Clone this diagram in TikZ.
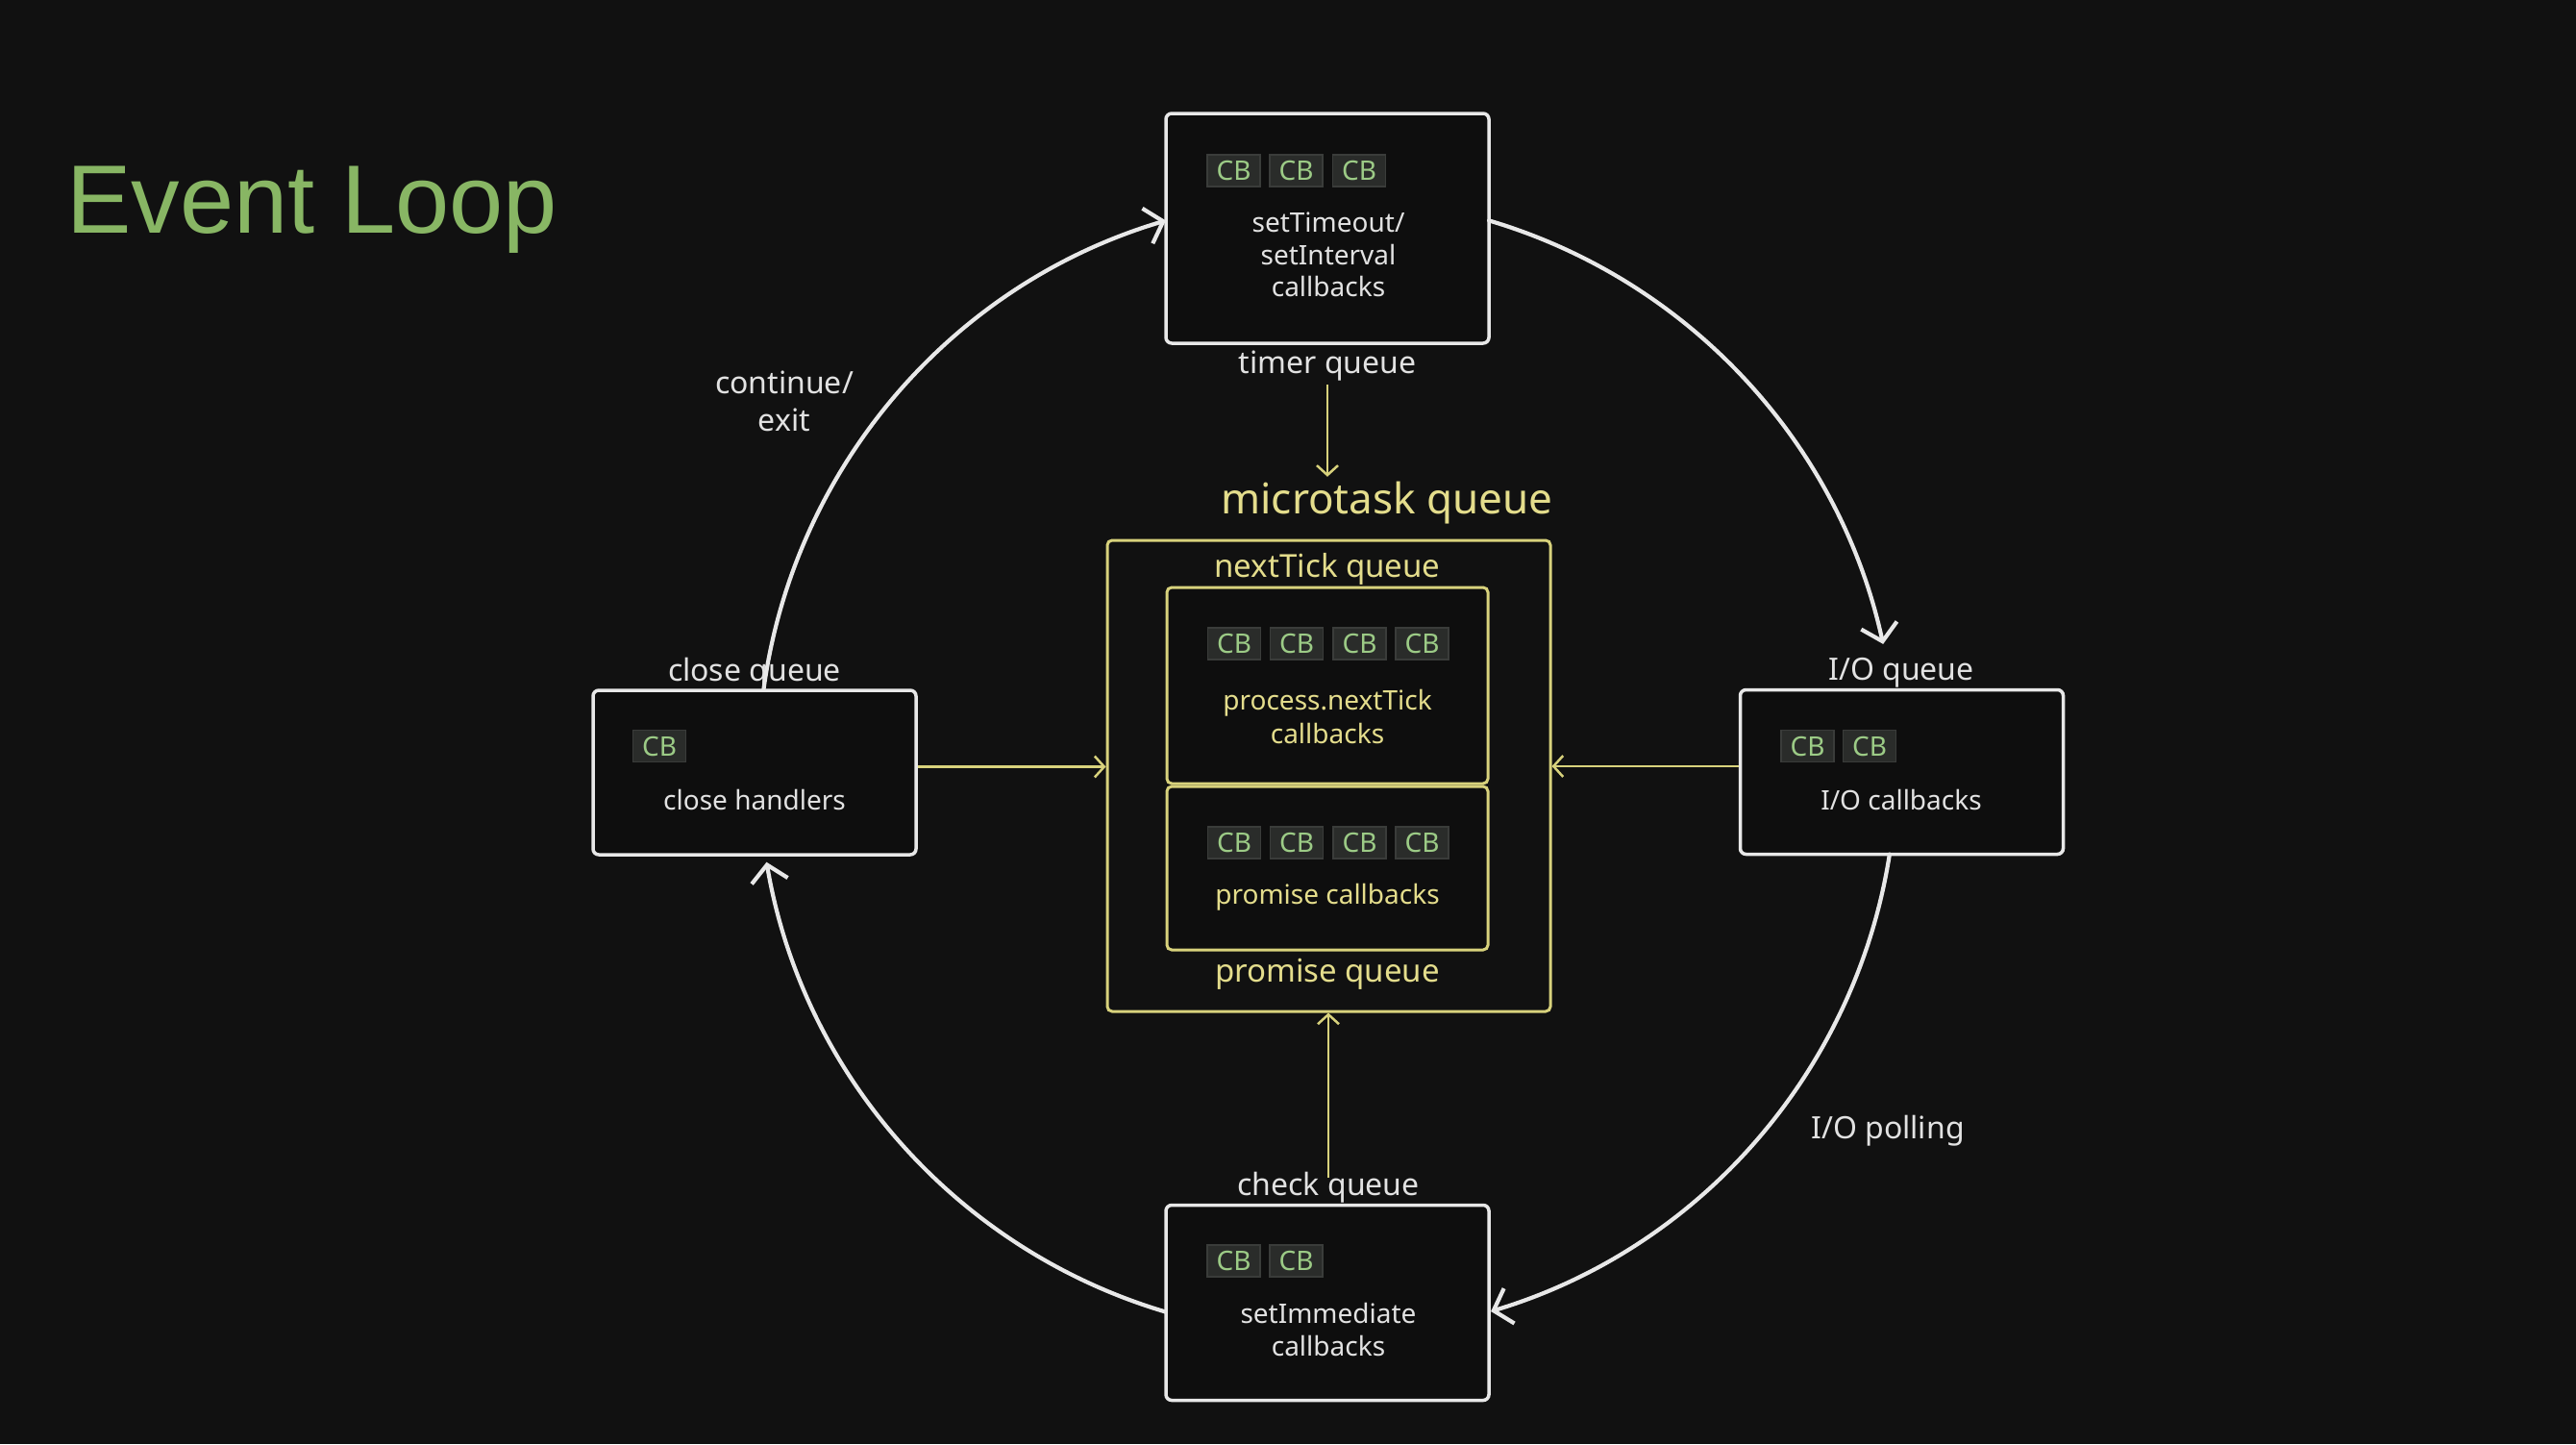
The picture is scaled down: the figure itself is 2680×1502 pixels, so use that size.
\documentclass[tikz,border=0pt]{standalone}
\usepackage{fontspec}
\setmainfont{Noto Sans}
\newfontfamily\titlefont{Liberation Sans}
\usetikzlibrary{arrows.meta,calc}
\definecolor{bg}{HTML}{111111}
\definecolor{boxfill}{HTML}{0E0E0E}
\definecolor{wline}{HTML}{E8E8E8}
\definecolor{wtext}{HTML}{E2E2E2}
\definecolor{yline}{HTML}{D8D27C}
\definecolor{ytext}{HTML}{E4DD8C}
\definecolor{cbfill}{HTML}{2A2C2A}
\definecolor{cbdraw}{HTML}{3A3C3A}
\definecolor{cbtext}{HTML}{9CCB86}
\definecolor{titlegreen}{HTML}{88B664}
\begin{document}
\begin{tikzpicture}[x=1pt,y=-1pt,
  queuebox/.style={draw=wline, line width=3.5pt, rounded corners=6pt, fill=boxfill, minimum width=336pt, inner sep=0pt},
  ybox/.style={draw=yline, line width=3pt, rounded corners=5pt, inner sep=0pt},
  cb/.style={fill=cbfill, draw=cbdraw, line width=1.5pt, minimum width=55pt, minimum height=33pt, inner sep=0pt, text=cbtext, font=\fontsize{28}{30}\selectfont},
  boxtext/.style={text=wtext, align=center, font=\fontsize{28}{33.5}\selectfont},
  ytextstyle/.style={text=ytext, align=center, font=\fontsize{28}{35}\selectfont},
  qlabel/.style={text=wtext, align=center, font=\fontsize{32}{39}\selectfont, inner sep=0pt},
  ylabel/.style={text=ytext, align=center, font=\fontsize{33}{38}\selectfont, inner sep=0pt},
  loopw/.style={draw=wline, line width=4.2pt, line cap=round, -{Straight Barb[length=17pt,width=38pt,line width=4.2pt]}},
  yarrow/.style={draw=yline, line width=2.5pt, -{Straight Barb[length=10pt,width=22pt,line width=2.5pt]}}
]
\fill[bg] (0,0) rectangle (2680,1502);
\useasboundingbox (0,0) rectangle (2680,1502);

% title
\node[anchor=base west, text=titlegreen, inner sep=0pt, font=\titlefont\fontsize{101}{110}\selectfont] (title) at (69,242) {Event Loop};

% loop centre
\coordinate (c) at (1381,797);

% macrotask queues
\node[queuebox, minimum height=239pt] (timer) at (1381,237.5) {};
\node[queuebox, minimum height=171pt] (close) at (785,803.5) {};
\node[queuebox, minimum height=171pt] (io) at (1978.5,803) {};
\node[queuebox, minimum height=203pt] (check) at (1381,1355) {};

% microtask queue
\node[ybox, minimum width=461pt, minimum height=490pt] (micro) at (1382.5,807) {};
\node[ybox, fill=boxfill, minimum width=334pt, minimum height=204pt] (ntbox) at (1381,713) {};
\node[ybox, fill=boxfill, minimum width=334pt, minimum height=170pt] (prbox) at (1381,903) {};

% CB chips
\node[cb] (t1) at (1283.5,177.5) {CB};
\node[cb] (t2) at (1348.5,177.5) {CB};
\node[cb] (t3) at (1414,177.5) {CB};
\node[cb] (c1) at (686,776) {CB};
\node[cb] (i1) at (1880.5,776) {CB};
\node[cb] (i2) at (1945,776) {CB};
\node[cb] (k1) at (1283.5,1311.5) {CB};
\node[cb] (k2) at (1348.5,1311.5) {CB};
\node[cb] (n1) at (1284,669.5) {CB};
\node[cb] (n2) at (1349,669.5) {CB};
\node[cb] (n3) at (1414.5,669.5) {CB};
\node[cb] (n4) at (1479.5,669.5) {CB};
\node[cb] (p1) at (1284,876.5) {CB};
\node[cb] (p2) at (1349,876.5) {CB};
\node[cb] (p3) at (1414.5,876.5) {CB};
\node[cb] (p4) at (1479.5,876.5) {CB};

% box texts
\node[boxtext] (timertxt) at (1382,265) {setTimeout/\\setInterval\\callbacks};
\node[boxtext] (closetxt) at (785,832) {close handlers};
\node[boxtext] (iotxt) at (1978,832) {I/O callbacks};
\node[boxtext] (checktxt) at (1382,1383) {setImmediate\\callbacks};
\node[ytextstyle] (nttxt) at (1381,745) {process.nextTick\\callbacks};
\node[ytextstyle] (prtxt) at (1381,933) {promise callbacks};

% queue labels
\node[qlabel] (tql) at (1381,381) {timer queue};
\node[qlabel] (cql) at (785,700) {close queue};
\node[qlabel] (iql) at (1978,700) {I/O queue};
\node[qlabel] (kql) at (1382,1235) {check queue};
\node[qlabel] (cont) at (816,417) {continue/\\exit};
\node[qlabel] (poll) at (1964,1176) {I/O polling};
\node[ylabel, font=\fontsize{44}{50}\selectfont] (mql) at (1443,523) {microtask queue};
\node[ylabel] (ntl) at (1381,592) {nextTick queue};
\node[ylabel] (prl) at (1381,1013) {promise queue};

% event loop arcs
\draw[loopw] ($(c)+(-172.3:592)$) arc[start angle=-172.3, end angle=-106.5, radius=592];
\draw[loopw] ($(c)+(-73.5:592)$) arc[start angle=-73.5, end angle=-12.4, radius=592];
\draw[loopw] ($(c)+(8.9:592)$) arc[start angle=8.9, end angle=73.3, radius=592];
\draw[loopw] ($(c)+(106.5:592)$) arc[start angle=106.5, end angle=170.3, radius=592];

% microtask connectors
\draw[yarrow] ([yshift=-3pt]tql.south) -- ([yshift=5pt]tql.south |- mql.north);
\draw[yarrow] ([yshift=-6pt]kql.north) -- (kql.north |- micro.south);
\draw[yarrow] ([yshift=6pt]close.east) -- ([yshift=6pt]close.east -| micro.west);
\draw[yarrow] ([yshift=6pt]io.west) -- ([yshift=6pt]io.west -| micro.east);
\end{tikzpicture}
\end{document}
